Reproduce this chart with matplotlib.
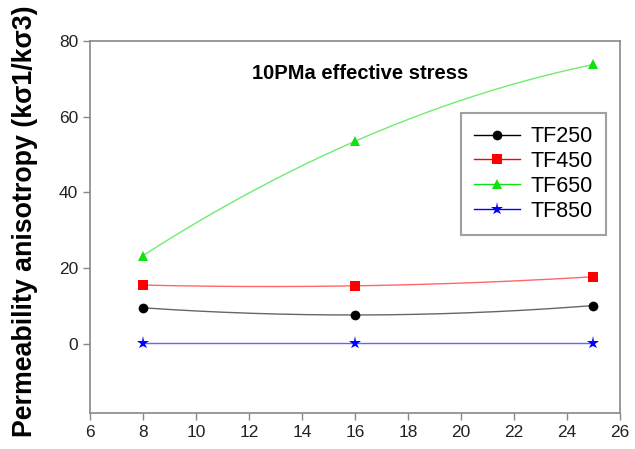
import numpy as np
import matplotlib
matplotlib.use("Agg")
import matplotlib.pyplot as plt

plt.rcParams['font.family'] = ['Liberation Sans', 'DejaVu Sans']

stress = [8, 16, 25]
tf250 = [9.5, 7.6, 10.1]
tf450 = [15.5, 15.3, 17.7]
tf650 = [23.3, 53.5, 73.8]
tf850 = [0.2, 0.2, 0.2]

series = [
    ("TF250", tf250, "black", "o", 7),
    ("TF450", tf450, "red", "s", 7),
    ("TF650", tf650, "#11e011", "^", 7.5),
    ("TF850", tf850, "blue", "*", 9.5),
]

fig = plt.figure(figsize=(6.35, 4.49), dpi=100)
ax = fig.add_axes([0.1417, 0.0802, 0.8346, 0.8285])

xs = np.linspace(min(stress), max(stress), 200)
for name, vals, color, marker, ms in series:
    # smooth curve through the three measured points
    coef = np.polyfit(stress, vals, 2)
    ax.plot(xs, np.polyval(coef, xs), color=color, lw=1.0, alpha=0.6)
    ax.plot(stress, vals, linestyle='none', marker=marker, color=color,
            markersize=ms, markeredgewidth=0)
    ax.plot([], [], color=color, lw=1.0, alpha=0.6, marker=marker,
            markersize=ms, markeredgewidth=0, label=name)

ax.set_xlim(6, 26)
ax.set_ylim(-18.3, 80)
ax.set_xticks(range(6, 27, 2))
ax.set_yticks([0, 20, 40, 60, 80])

for side in ['left', 'bottom', 'top', 'right']:
    ax.spines[side].set_color('#888888')
    ax.spines[side].set_linewidth(1.2)
ax.tick_params(direction='out', length=5, width=1.0, color='#888888',
               labelsize=12.5, labelcolor='#222222', top=False, right=False)

fig.text(0.040, 0.508, "Permeability anisotropy (kσ1/kσ3)", fontsize=19.3,
         fontweight='bold', rotation=90, ha='center', va='center')

ax.text(16.19, 71.3, "10PMa effective stress", fontsize=14.5,
        fontweight='bold', ha='center', va='center')

handles, labels = ax.get_legend_handles_labels()
for h in handles:
    pass
leg = ax.legend(handles, labels, loc='upper right',
                bbox_to_anchor=(0.9736, 0.806), borderaxespad=0,
                fontsize=15.5, frameon=True, fancybox=False,
                edgecolor='#888888', handlelength=2.15, handletextpad=0.5,
                labelspacing=0.18, borderpad=0.6)
leg.get_frame().set_linewidth(1.5)
for lh in leg.legend_handles:
    lh.set_alpha(1.0)
for line, (_, _, color, _, _) in zip(leg.get_lines(), series):
    line.set_color(color)

fig.savefig("out.png", dpi=100)
